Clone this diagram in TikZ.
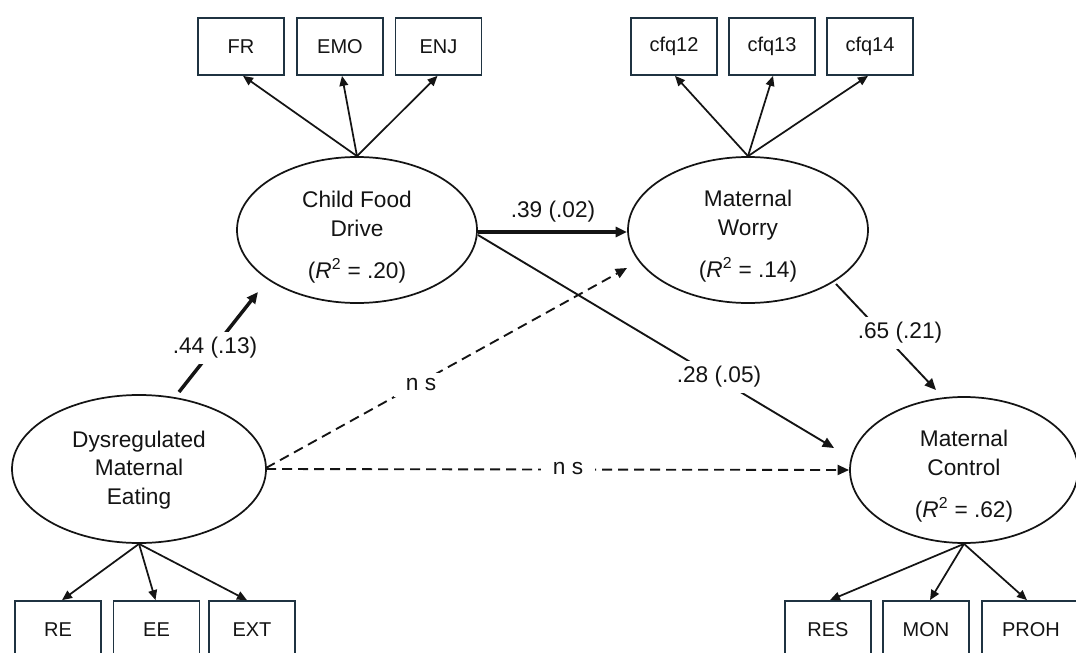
\documentclass[tikz,border=0pt]{standalone}
\usepackage{fontspec}
\setmainfont{Liberation Sans}
\usetikzlibrary{arrows.meta,calc,shapes.geometric}
\definecolor{boxc}{HTML}{1F3341}
\definecolor{ink}{HTML}{141414}
\begin{document}
\begin{tikzpicture}[x=0.75pt,y=-0.75pt,
  latent/.style={ellipse,draw=ink,line width=1.3pt,inner sep=0pt},
  obs/.style={rectangle,draw=boxc,line width=1.3pt,minimum width=64.5pt,minimum height=42.75pt,inner sep=0pt,font=\fontsize{15}{18}\selectfont,text=ink},
  ltext/.style={align=center,font=\fontsize{17}{21.5}\selectfont,text=ink,inner sep=0pt},
  load/.style={-{Triangle[length=7.5pt,width=6.5pt]},line width=1.3pt,draw=ink},
  sig/.style={-{Triangle[length=8.5pt,width=7.5pt]},line width=1.4pt,draw=ink},
  sigthick/.style={-{Triangle[length=8.5pt,width=7.5pt]},line width=2.6pt,draw=ink},
  nsline/.style={-{Triangle[length=8.5pt,width=7.5pt]},line width=1.4pt,draw=ink,dash pattern=on 7.5pt off 4.5pt},
  plabel/.style={fill=white,font=\fontsize{17}{20}\selectfont,text=ink,inner sep=4pt},
  nslabel/.style={fill=white,font=\fontsize{17}{20}\selectfont,text=ink,inner ysep=4pt,inner xsep=9pt}
]
\useasboundingbox (0,0) rectangle (1076,653);
\fill[white] (0,0) rectangle (1076,653);
\clip (0,0) rectangle (1076,653);

% latent variables
\node[latent,minimum width=180pt,minimum height=109.5pt] (cfd) at (357,230) {};
\node[latent,minimum width=180pt,minimum height=109.5pt] (mw) at (748,230) {};
\node[latent,minimum width=190.5pt,minimum height=111pt] (dme) at (139,469) {};
\node[latent,minimum width=171pt,minimum height=109.5pt] (mc) at (964,470) {};

\node[ltext] (cfdt) at (357,237) {Child Food\\Drive\\[10pt](\textit{R}\textsuperscript{2} = .20)};
\node[ltext] (mwt) at (748,236) {Maternal\\Worry\\[10pt](\textit{R}\textsuperscript{2} = .14)};
\node[ltext] (dmet) at (139,470) {Dysregulated\\Maternal\\Eating};
\node[ltext] (mct) at (964,476) {Maternal\\Control\\[10pt](\textit{R}\textsuperscript{2} = .62)};

% indicators
\node[obs] (fr) at (241,46.5) {FR};
\node[obs] (emo) at (340,46.5) {EMO};
\node[obs] (enj) at (438.5,46.5) {ENJ};
\node[obs] (c12) at (674,46.5) {cfq12};
\node[obs] (c13) at (772,46.5) {cfq13};
\node[obs] (c14) at (870,46.5) {cfq14};
\node[obs] (re) at (58,629.5) {RE};
\node[obs] (ee) at (156.5,629.5) {EE};
\node[obs] (ext) at (252,629.5) {EXT};
\node[obs] (res) at (828,629.5) {RES};
\node[obs] (mon) at (926,629.5) {MON};
\node[obs,minimum width=73.5pt] (proh) at (1031,629.5) {PROH};

% loadings
\draw[load] (cfd.north) -- ($(fr.south)+(2,0)$);
\draw[load] (cfd.north) -- ($(emo.south)+(2,0)$);
\draw[load] (cfd.north) -- ($(enj.south)+(-1,0)$);
\draw[load] (mw.north) -- ($(c12.south)+(1,0)$);
\draw[load] (mw.north) -- ($(c13.south)+(1,0)$);
\draw[load] (mw.north) -- ($(c14.south)+(-2,0)$);
\draw[load] (dme.south) -- ($(re.north)+(4,0)$);
\draw[load] (dme.south) -- ($(ee.north)+(-1,0)$);
\draw[load] (dme.south) -- ($(ext.north)+(-5,0)$);
\draw[load] (mc.south) -- ($(res.north)+(2,0)$);
\draw[load] (mc.south) -- ($(mon.north)+(4,0)$);
\draw[load] (mc.south) -- ($(proh.north)+(-4,0)$);

% structural paths
\draw[sigthick] ($(dme)+(40,-77)$) -- ($(cfd)+(-99,62)$);
\draw[sigthick] ($(cfd)+(121,2)$) -- ($(mw)+(-121,2)$);
\draw[sig] ($(cfd)+(121,5)$) -- ($(mc)+(-130,-22)$);
\draw[sig] ($(mw)+(88,54)$) -- ($(mc)+(-28,-80)$);
\draw[nsline] ($(dme)+(127,-1)$) -- ($(mw)+(-121,38)$);
\draw[nsline] ($(dme)+(127,0)$) -- ($(mc)+(-115,0)$);

% path labels
\node[plabel] (l44) at (215,348) {.44 (.13)};
\node[font=\fontsize{17}{20}\selectfont,text=ink] (l39) at (553,212) {.39 (.02)};
\node[plabel] (l28) at (719,377) {.28 (.05)};
\node[plabel] (l65) at (900,333) {.65 (.21)};
\node[nslabel] (ns1) at (421,385) {n s};
\node[nslabel] (ns2) at (568,469) {n s};
\end{tikzpicture}
\end{document}
